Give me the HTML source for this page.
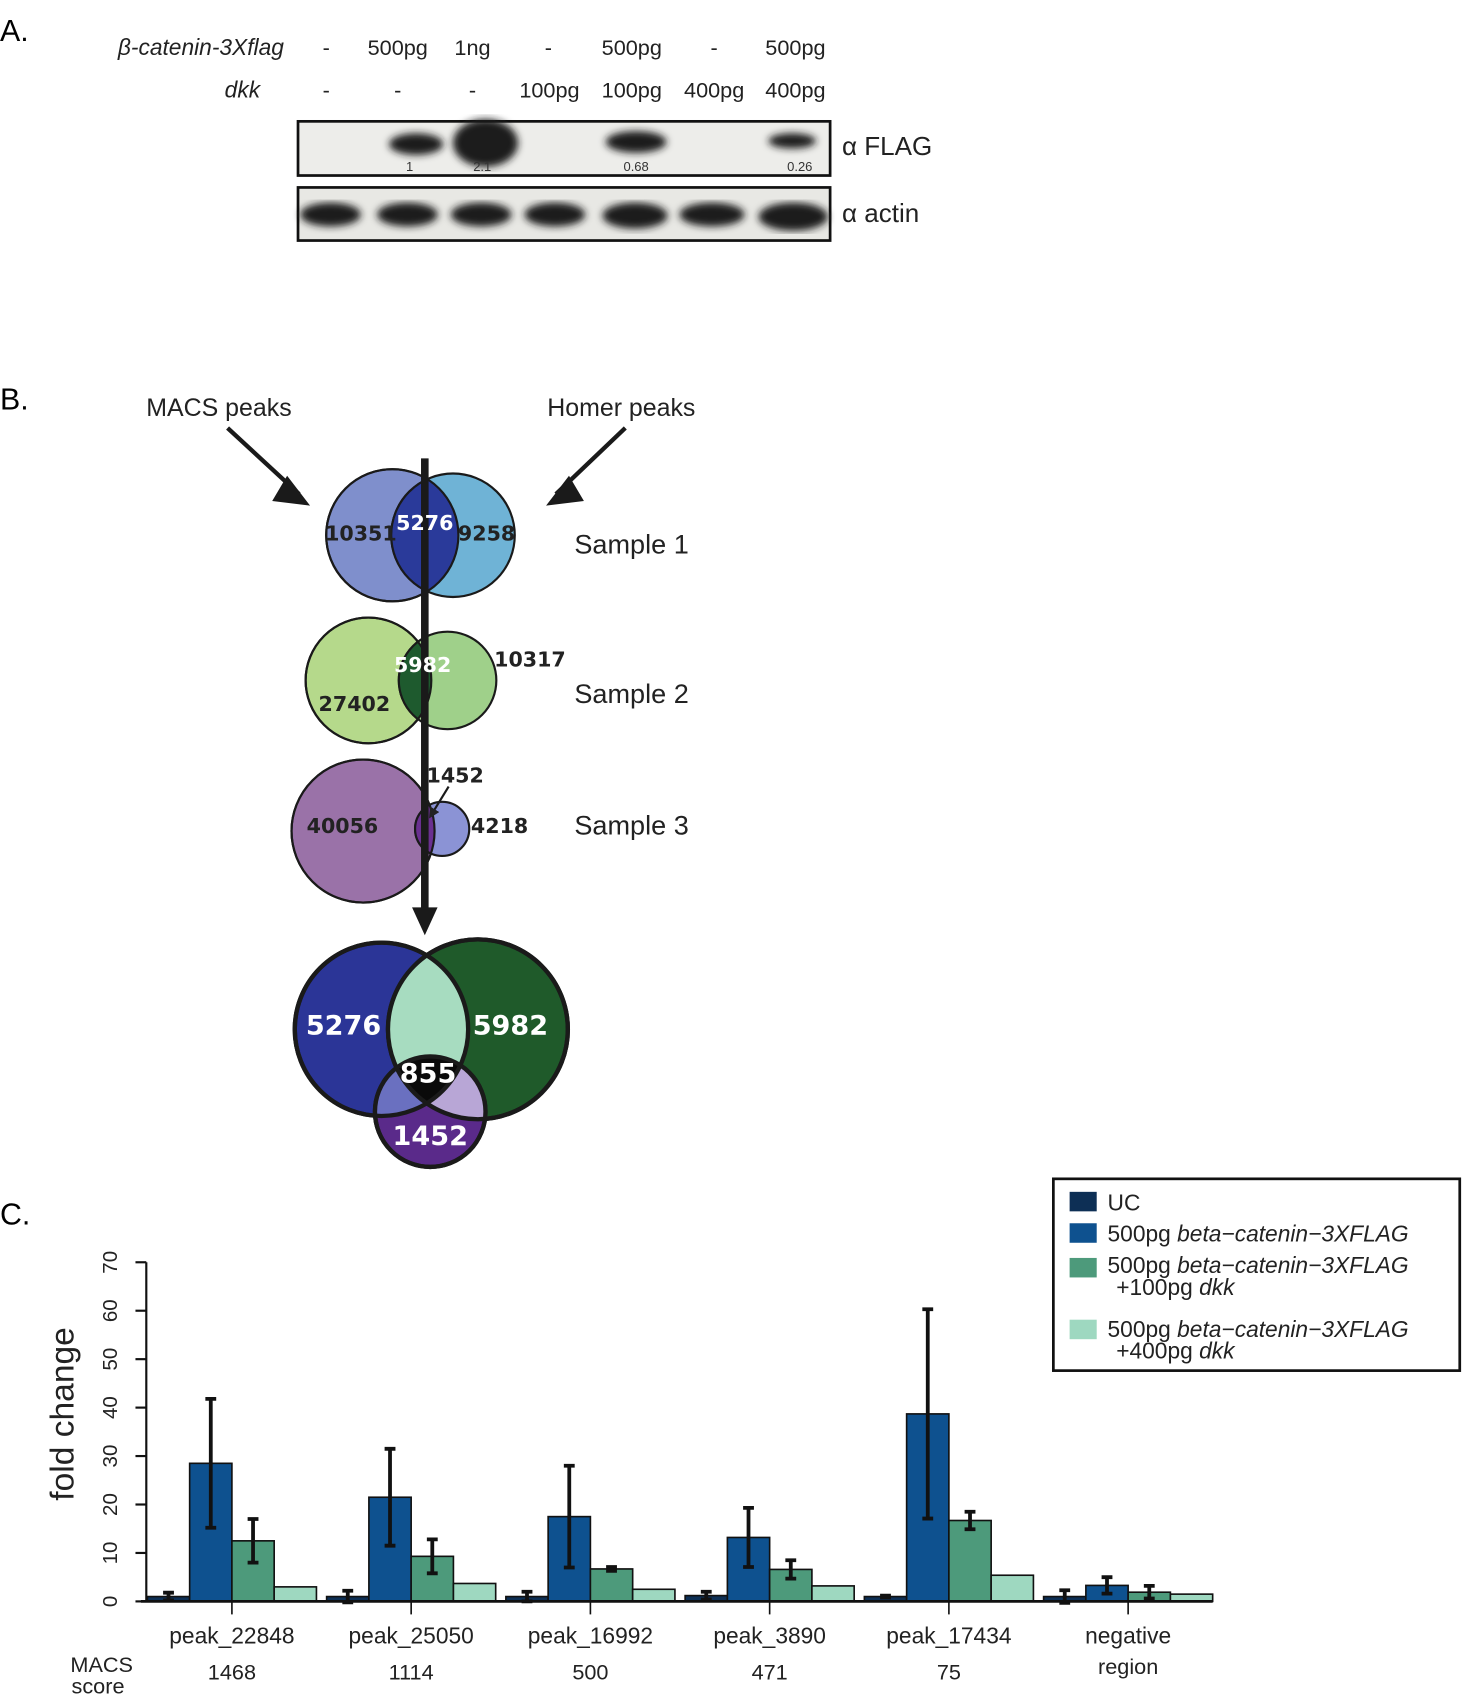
<!DOCTYPE html>
<html><head><meta charset="utf-8"><style>
html,body{margin:0;padding:0;background:#fff;}
svg{display:block;font-family:"Liberation Sans",sans-serif;}
.b{font-family:"DejaVu Sans","Liberation Sans",sans-serif;font-weight:bold;}
</style></head><body>
<svg id="fig" width="1463" height="1700" viewBox="0 0 1350 1569" preserveAspectRatio="none" xmlns="http://www.w3.org/2000/svg">
<defs>
<clipPath id="cB"><circle cx="352" cy="950" r="80"/></clipPath>
<clipPath id="cG"><circle cx="441" cy="950" r="83"/></clipPath>
<clipPath id="s1"><circle cx="362" cy="494" r="61"/></clipPath>
<clipPath id="s2"><circle cx="340" cy="628" r="58"/></clipPath>
<clipPath id="s3"><circle cx="335" cy="767" r="66"/></clipPath>
<filter id="blur"><feGaussianBlur stdDeviation="3.5"/></filter>
<marker id="ah" markerWidth="10" markerHeight="10" refX="6" refY="5" orient="auto" markerUnits="userSpaceOnUse"><path d="M0,0 L10,5 L0,10 Z" fill="#222"/></marker>
</defs>

<g>
<text x="0" y="38" font-size="28">A.</text>
<text x="262" y="51" font-size="21" font-style="italic" text-anchor="end" fill="#222">β-catenin-3Xflag</text>
<text x="240" y="90" font-size="21" font-style="italic" text-anchor="end" fill="#222">dkk</text>
<g font-size="20" text-anchor="middle" fill="#222">
<text x="301" y="51">-</text><text x="367" y="51">500pg</text><text x="436" y="51">1ng</text><text x="506" y="51">-</text><text x="583" y="51">500pg</text><text x="659" y="51">-</text><text x="734" y="51">500pg</text>
<text x="301" y="90">-</text><text x="367" y="90">-</text><text x="436" y="90">-</text><text x="507" y="90">100pg</text><text x="583" y="90">100pg</text><text x="659" y="90">400pg</text><text x="734" y="90">400pg</text>
</g>
<rect x="275" y="112" width="491" height="50" fill="#ededea" stroke="#111" stroke-width="2.5"/>
<g filter="url(#blur)" fill="#1a1a1a">
<ellipse cx="384" cy="133" rx="25" ry="10"/>
<ellipse cx="448" cy="132" rx="30" ry="22"/>
<ellipse cx="587" cy="131" rx="28" ry="10"/>
<ellipse cx="731" cy="130" rx="22" ry="7"/>
</g>
<g font-size="12" text-anchor="middle" fill="#333">
<text x="378" y="158">1</text><text x="445" y="158">2.1</text><text x="587" y="158">0.68</text><text x="738" y="158">0.26</text>
</g>
<rect x="275" y="173" width="491" height="49" fill="#e8e8e4" stroke="#111" stroke-width="2.5"/>
<g filter="url(#blur)" fill="#1a1a1a">
<ellipse cx="305" cy="198" rx="28" ry="11"/><ellipse cx="376" cy="198" rx="28" ry="11"/><ellipse cx="444" cy="198" rx="28" ry="11"/><ellipse cx="512" cy="198" rx="28" ry="11"/><ellipse cx="586" cy="199" rx="30" ry="12"/><ellipse cx="657" cy="198" rx="30" ry="11"/><ellipse cx="732" cy="200" rx="32" ry="13"/>
</g>
<text x="777" y="143" font-size="24" fill="#222">α FLAG</text>
<text x="777" y="205" font-size="24" fill="#222">α actin</text>
</g>

<g stroke="#1a1a1a">
<text x="0" y="378" font-size="28" stroke="none">B.</text>
<text x="135" y="384" font-size="23" fill="#222" stroke="none">MACS peaks</text>
<text x="505" y="384" font-size="23" fill="#222" stroke="none">Homer peaks</text>
<line x1="210" y1="395" x2="276" y2="456" stroke-width="4"/>
<line x1="577" y1="395" x2="513" y2="456" stroke-width="4"/>
<path d="M265,440 L285,466 L252,462 Z" fill="#1a1a1a"/>
<path d="M525,440 L505,466 L538,462 Z" fill="#1a1a1a"/>
<g stroke-width="2">
<circle cx="362" cy="494" r="61" fill="#7f8fcc"/>
<circle cx="418" cy="494" r="57" fill="#6fb3d6"/>
<circle cx="418" cy="494" r="57" fill="#2a3a9a" clip-path="url(#s1)"/>
<circle cx="362" cy="494" r="61" fill="none"/>
</g>
<g stroke-width="2">
<circle cx="340" cy="628" r="58" fill="#b5d98b"/>
<circle cx="413" cy="628" r="45" fill="#9fd08a"/>
<circle cx="413" cy="628" r="45" fill="#1e5a2e" clip-path="url(#s2)"/>
<circle cx="340" cy="628" r="58" fill="none"/>
</g>
<g stroke-width="2">
<circle cx="335" cy="767" r="66" fill="#9a72a8"/>
<circle cx="408" cy="765" r="25" fill="#8b93d5"/>
<circle cx="408" cy="765" r="25" fill="#6a3090" clip-path="url(#s3)"/>
<circle cx="335" cy="767" r="66" fill="none"/>
</g>
<line x1="392" y1="423" x2="392" y2="845" stroke-width="7"/>
<path d="M381,838 L403,838 L392,862 Z" fill="#1a1a1a"/>
<line x1="414" y1="726" x2="398" y2="752" stroke-width="2" marker-end="url(#ah)"/>
<g class="b" font-size="19" stroke="none" fill="#222" text-anchor="middle">
<text x="333" y="499">10351</text><text x="392" y="489" fill="#fff">5276</text><text x="449" y="499">9258</text>
<text x="390" y="620" fill="#fff">5982</text><text x="327" y="656">27402</text><text x="489" y="615">10317</text>
<text x="420" y="722">1452</text><text x="316" y="769">40056</text><text x="461" y="769">4218</text>
</g>
<g font-size="25" stroke="none" fill="#222">
<text x="530" y="511">Sample 1</text><text x="530" y="649">Sample 2</text><text x="530" y="770">Sample 3</text>
</g>
<g stroke-width="4">
<circle cx="352" cy="950" r="80" fill="#2b3597"/>
<circle cx="441" cy="950" r="83" fill="#1f5a2a"/>
<circle cx="397" cy="1026" r="51" fill="#5a2a8a"/>
<g stroke="none">
<g clip-path="url(#cB)"><circle cx="441" cy="950" r="83" fill="#a7dcc0"/><circle cx="397" cy="1026" r="51" fill="#6a70c0"/></g>
<g clip-path="url(#cG)"><circle cx="397" cy="1026" r="51" fill="#b8a6d6"/></g>
<g clip-path="url(#cB)"><g clip-path="url(#cG)"><circle cx="397" cy="1026" r="51" fill="#0a0a0a"/></g></g>
</g>
<circle cx="352" cy="950" r="80" fill="none"/>
<circle cx="441" cy="950" r="83" fill="none"/>
<circle cx="397" cy="1026" r="51" fill="none"/>
</g>
<g class="b" font-size="25" stroke="none" fill="#fff" text-anchor="middle">
<text x="317" y="955">5276</text><text x="471" y="955">5982</text><text x="395" y="999">855</text><text x="397" y="1057">1452</text>
</g>
</g>

<g>
<text x="0" y="1130" font-size="28">C.</text>
<g id="chart"></g>
<rect x="972" y="1088" width="375" height="177" fill="#fff" stroke="#111" stroke-width="2.5"/>
<g font-size="21" fill="#222">
<rect x="987" y="1100" width="25" height="18" fill="#0d2f55"/><text x="1022" y="1117">UC</text>
<rect x="987" y="1129" width="25" height="18" fill="#0e518f"/><text x="1022" y="1146">500pg <tspan font-style="italic">beta−catenin−3XFLAG</tspan></text>
<rect x="987" y="1161" width="25" height="18" fill="#4d9a7b"/><text x="1022" y="1175">500pg <tspan font-style="italic">beta−catenin−3XFLAG</tspan></text><text x="1030" y="1195">+100pg <tspan font-style="italic">dkk</tspan></text>
<rect x="987" y="1218" width="25" height="18" fill="#9ed8c0"/><text x="1022" y="1234">500pg <tspan font-style="italic">beta−catenin−3XFLAG</tspan></text><text x="1030" y="1254">+400pg <tspan font-style="italic">dkk</tspan></text>
</g>
<text x="65" y="1543" font-size="20" fill="#222">MACS</text>
<text x="66" y="1563" font-size="20" fill="#222">score</text>
<text transform="translate(68,1305) rotate(-90)" font-size="31" text-anchor="middle" fill="#222">fold change</text>
</g>
</svg>
<script>
const categories = ["peak_22848","peak_25050","peak_16992","peak_3890","peak_17434","negative"];
const macsScores = ["1468","1114","500","471","75","region"];
const ucValues = [1, 1, 1, 1.2, 1, 1];
const ucErr = [0.8, 1.2, 1, 0.8, 0.2, 1.3];
const bcatValues = [28.5, 21.5, 17.5, 13.2, 38.7, 3.3];
const bcatErr = [13.3, 10, 10.5, 6.1, 21.6, 1.7];
const dkk100Values = [12.5, 9.3, 6.7, 6.6, 16.7, 1.9];
const dkk100Err = [4.5, 3.5, 0.4, 1.9, 1.8, 1.3];
const dkk400Values = [3, 3.7, 2.5, 3.2, 5.4, 1.5];
const yTicks = [0, 10, 20, 30, 40, 50, 60, 70];

const NS = "http://www.w3.org/2000/svg";
const g = document.getElementById("chart");
const x0 = 136, groupW = 165.4, barW = 39, y0 = 1478, yTop = 1165, yMax = 70;
const yS = v => y0 - v / yMax * (y0 - yTop);
const xS = (i, k) => x0 + i * groupW + k * barW;
function mk(tag, attrs){ const e = document.createElementNS(NS, tag); for (const k in attrs) e.setAttribute(k, attrs[k]); g.appendChild(e); return e; }

const axis = mk("line", {x1:135, y1:yTop, x2:135, y2:y0, stroke:"#111", "stroke-width":2});


yTicks.forEach(t => {
  const y = yS(t);
  const tk = mk("line", {x1:125, y1:y, x2:135, y2:y, stroke:"#111", "stroke-width":2});
  
  
  const tl = mk("text", {transform:`translate(108,${y}) rotate(-90)`, "text-anchor":"middle", "font-size":19, fill:"#222"});
  tl.textContent = t;
  
  
});

const series = [[ucValues, ucErr, "#0d2f55"], [bcatValues, bcatErr, "#0e518f"], [dkk100Values, dkk100Err, "#4d9a7b"], [dkk400Values, null, "#9ed8c0"]];
categories.forEach((c, i) => {
  series.forEach(([vals, errs, col], k) => {
    const v = vals[i];
    const r = mk("rect", {x:xS(i,k), y:yS(v), width:barW, height:y0 - yS(v), fill:col, stroke:"#111", "stroke-width":1.5});
    
    
    if (errs) {
      const cx = xS(i,k) + barW/2, lo = yS(v - errs[i]), hi = yS(v + errs[i]);
      const e = mk("path", {d:`M${cx},${lo}V${hi}M${cx-5},${hi}H${cx+5}M${cx-5},${lo}H${cx+5}`, stroke:"#111", "stroke-width":3.5, fill:"none"});
      
      
    }
  });
  const cx = xS(i,2);
  const tk = mk("line", {x1:cx, y1:y0, x2:cx, y2:y0+12, stroke:"#111", "stroke-width":1.5});
  
  
  const lb = mk("text", {x:cx, y:1517, "text-anchor":"middle", "font-size":21, fill:"#222"});
  lb.textContent = c;
  
  
  const sc = mk("text", {x:cx, y:i === 5 ? 1545 : 1550, "text-anchor":"middle", "font-size":20, fill:"#222"});
  sc.textContent = macsScores[i];
  
  
});
const base = mk("line", {x1:130, y1:y0, x2:xS(5,4), y2:y0, stroke:"#111", "stroke-width":2.5});


</script>
</body></html>
